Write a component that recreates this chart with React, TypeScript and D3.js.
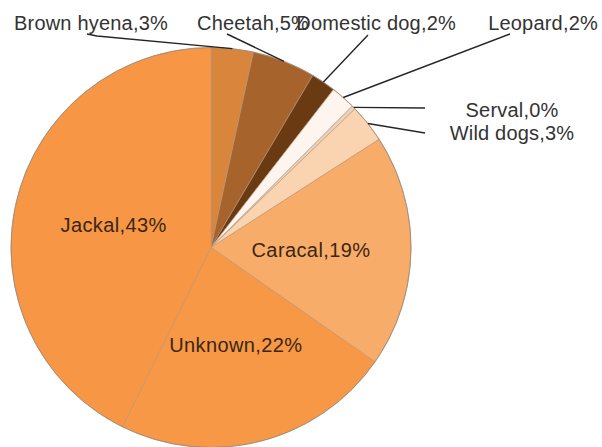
import React from "react";
import * as d3 from "d3";

// ---- data ----
const categories = [
  "Brown hyena",
  "Cheetah",
  "Domestic dog",
  "Leopard",
  "Serval",
  "Wild dogs",
  "Caracal",
  "Unknown",
  "Jackal",
];
const values = [3.4, 5.1, 2.0, 2.0, 0.3, 3.1, 18.8, 22.6, 42.7];
const percentLabels = ["3%", "5%", "2%", "2%", "0%", "3%", "19%", "22%", "43%"];
const sliceColors = [
  "#D9853B",
  "#A6632B",
  "#6A3A12",
  "#FDF5EE",
  "#EBD3BC",
  "#FAD3B0",
  "#F8AC69",
  "#F79846",
  "#F79645",
];
// which slices are labelled inside
const insideLabel = [false, false, false, false, false, false, true, true, true];

// ---- layout (outside label placement) ----
type OutLayout = { x: number; y: number; anchor: string; lx: number; ly: number; kx?: number; ky?: number };
const outsideLayout: Record<string, OutLayout> = {
  "Brown hyena": { x: 14, y: 30, anchor: "start", lx: 87, ly: 34, kx: 97, ky: 36 },
  Cheetah: { x: 197, y: 30, anchor: "start", lx: 227, ly: 34 },
  "Domestic dog": { x: 456, y: 30, anchor: "end", lx: 368, ly: 35 },
  Leopard: { x: 598, y: 30, anchor: "end", lx: 510, ly: 34 },
  Serval: { x: 512, y: 117, anchor: "middle", lx: 425, ly: 108 },
  "Wild dogs": { x: 512, y: 140, anchor: "middle", lx: 425, ly: 133 },
};

const W = 602;
const H = 447;
const cx = 211;
const cy = 247.5;
const R = 200;

export default function App() {
  const data = categories.map((c, i) => ({
    name: c,
    value: values[i],
    pct: percentLabels[i],
    color: sliceColors[i],
    inside: insideLabel[i],
  }));
  const pie = d3
    .pie<(typeof data)[number]>()
    .sort(null)
    .value((d) => d.value)
    .startAngle(0)
    .endAngle(2 * Math.PI);
  const arcs = pie(data);
  const arc = d3.arc<d3.PieArcDatum<(typeof data)[number]>>().innerRadius(0).outerRadius(R);
  const edgeArc = d3.arc<d3.PieArcDatum<(typeof data)[number]>>().innerRadius(R).outerRadius(R);

  return (
    <svg
      width={W}
      height={H}
      style={{ position: "absolute", left: 0, top: 0, background: "#fff" }}
      fontFamily="'Liberation Sans', Arial, sans-serif"
    >
      <g transform={`translate(${cx},${cy})`}>
        {arcs.map((a, i) => (
          <path
            key={i}
            d={arc(a) || ""}
            fill={a.data.color}
            stroke="#B89478"
            strokeWidth={0.8}
            strokeOpacity={0.8}
          />
        ))}
        <circle r={R} fill="none" stroke="#9A8878" strokeWidth={0.8} />
        {arcs
          .filter((a) => a.data.inside)
          .map((a, i) => {
            const [x, y] = arc.centroid(a);
            return (
              <text
                key={"in" + i}
                x={x}
                y={y}
                dy="0.36em"
                textAnchor="middle"
                fontSize={20}
                letterSpacing={0.4}
                fill="#3A2614"
              >
                {`${a.data.name},${a.data.pct}`}
              </text>
            );
          })}
      </g>
      {arcs
        .filter((a) => !a.data.inside)
        .map((a, i) => {
          const L = outsideLayout[a.data.name];
          const [ex, ey] = edgeArc.centroid(a);
          const pts: [number, number][] = [[L.lx, L.ly]];
          if (L.kx !== undefined && L.ky !== undefined) pts.push([L.kx, L.ky]);
          pts.push([cx + ex, cy + ey]);
          const line = d3.line()(pts) || "";
          return (
            <g key={"out" + i}>
              <path d={line} fill="none" stroke="#262626" strokeWidth={1.4} />
              <text
                x={L.x}
                y={L.y}
                textAnchor={L.anchor as any}
                fontSize={20}
                letterSpacing={0.2}
                fill="#333333"
              >
                {`${a.data.name},${a.data.pct}`}
              </text>
            </g>
          );
        })}
    </svg>
  );
}
